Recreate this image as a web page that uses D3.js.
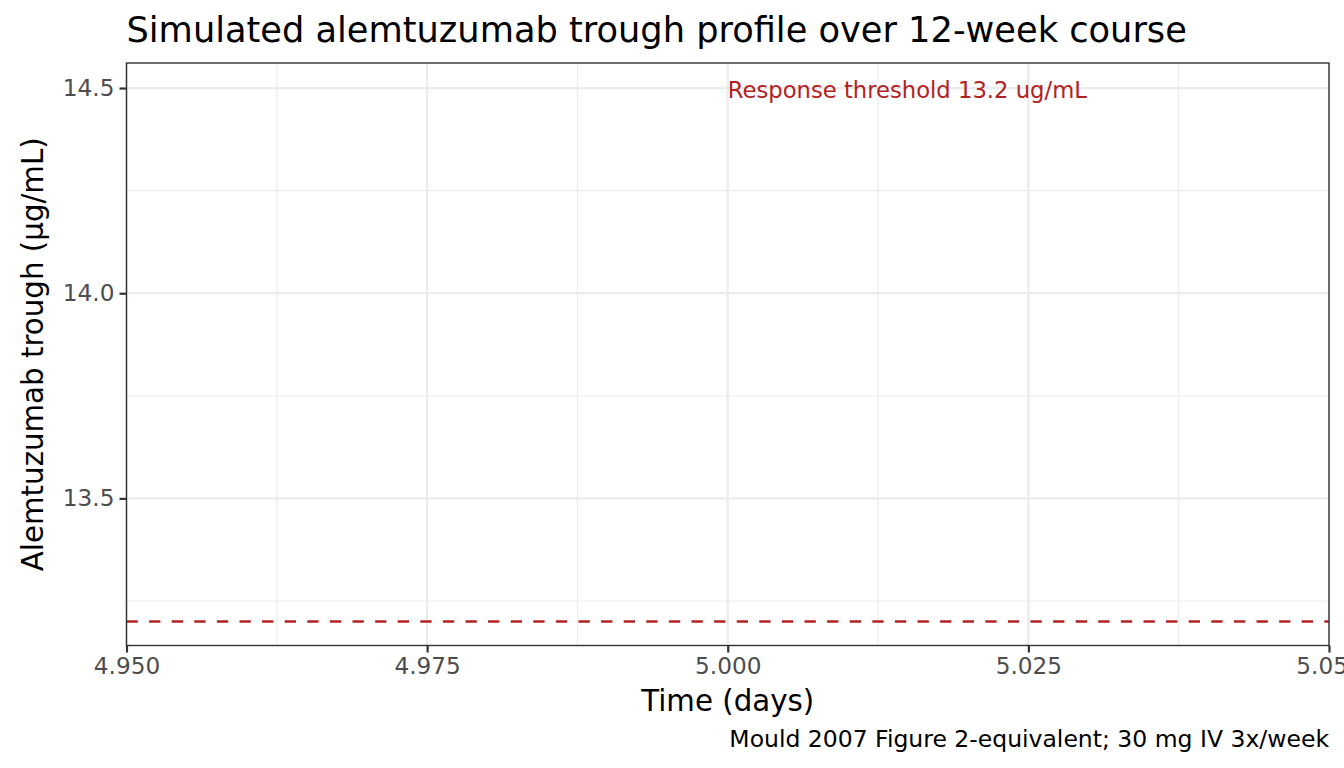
<!DOCTYPE html>
<html><head><meta charset="utf-8">
<script src="https://cdn.jsdelivr.net/npm/d3@7"></script>
<style>body{margin:0;background:#fff;} svg{display:block;font-family:"DejaVu Sans",sans-serif;}</style>
</head><body>
<script>
const xDomain = [4.95, 5.05];
const yDomain = [13.1415, 14.561];
const xTicks = [4.950, 4.975, 5.000, 5.025, 5.050];
const xTickLabels = ["4.950", "4.975", "5.000", "5.025", "5.050"];
const xMinor = [4.9625, 4.9875, 5.0125, 5.0375];
const yTicks = [13.5, 14.0, 14.5];
const yTickLabels = ["13.5", "14.0", "14.5"];
const yMinor = [13.25, 13.75, 14.25];
const threshold = [13.2];
const annotation = [{x: 5.0, y: 14.5, label: "Response threshold 13.2 ug/mL"}];

const W = 1344, H = 768;
const m = {left: 126.5, right: 1329, top: 63, bottom: 645.5};
const svg = d3.select("body").append("svg").attr("width", W).attr("height", H);
const x = d3.scaleLinear().domain(xDomain).range([m.left, m.right]);
const y = d3.scaleLinear().domain(yDomain).range([m.bottom, m.top]);

svg.append("rect").attr("x", m.left).attr("y", m.top).attr("width", m.right - m.left).attr("height", m.bottom - m.top).attr("fill", "#fff");

const defs = svg.append("defs");
defs.append("clipPath").attr("id", "clip").append("rect")
  .attr("x", m.left).attr("y", m.top).attr("width", m.right - m.left).attr("height", m.bottom - m.top);

const grid = svg.append("g");
grid.selectAll(".xm").data(xMinor).join("line").attr("x1", d => x(d)).attr("x2", d => x(d))
  .attr("y1", m.top).attr("y2", m.bottom).attr("stroke", "#EBEBEB").attr("stroke-width", 1.1);
grid.selectAll(".ym").data(yMinor).join("line").attr("y1", d => y(d)).attr("y2", d => y(d))
  .attr("x1", m.left).attr("x2", m.right).attr("stroke", "#EBEBEB").attr("stroke-width", 1.1);
grid.selectAll(".xM").data(xTicks).join("line").attr("x1", d => x(d)).attr("x2", d => x(d))
  .attr("y1", m.top).attr("y2", m.bottom).attr("stroke", "#EBEBEB").attr("stroke-width", 2.2);
grid.selectAll(".yM").data(yTicks).join("line").attr("y1", d => y(d)).attr("y2", d => y(d))
  .attr("x1", m.left).attr("x2", m.right).attr("stroke", "#EBEBEB").attr("stroke-width", 2.2);

svg.append("g").attr("clip-path", "url(#clip)").selectAll("line").data(threshold).join("line")
  .attr("x1", m.left).attr("x2", m.right).attr("y1", d => y(d)).attr("y2", d => y(d))
  .attr("stroke", "#B22222").attr("stroke-width", 2.6).attr("stroke-dasharray", "11.3,11.3");

svg.selectAll(".ann").data(annotation).join("text")
  .attr("x", d => x(d.x)).attr("y", d => y(d.y) + 9.5)
  .attr("fill", "#B22222").attr("font-size", 22.7).text(d => d.label);

svg.append("rect").attr("x", m.left).attr("y", m.top).attr("width", m.right - m.left).attr("height", m.bottom - m.top)
  .attr("fill", "none").attr("stroke", "#333333").attr("stroke-width", 1.4);

const xAxis = d3.axisBottom(x).tickValues(xTicks).tickFormat((d, i) => xTickLabels[i]).tickSize(7).tickPadding(5);
const gx = svg.append("g").attr("transform", `translate(0,${m.bottom})`).call(xAxis);
gx.select(".domain").remove();
gx.selectAll(".tick line").attr("stroke", "#333333").attr("stroke-width", 2.2);
gx.selectAll(".tick text").attr("fill", "#4D4D4D").attr("font-size", 23.2).attr("font-family", "DejaVu Sans");

const yAxis = d3.axisLeft(y).tickValues(yTicks).tickFormat((d, i) => yTickLabels[i]).tickSize(7).tickPadding(5);
const gy = svg.append("g").attr("transform", `translate(${m.left},0)`).call(yAxis);
gy.select(".domain").remove();
gy.selectAll(".tick line").attr("stroke", "#333333").attr("stroke-width", 2.2);
gy.selectAll(".tick text").attr("fill", "#4D4D4D").attr("font-size", 23.2).attr("font-family", "DejaVu Sans");

svg.append("text").attr("x", m.left).attr("y", 41.5).attr("font-size", 35.2).attr("fill", "#000")
  .text("Simulated alemtuzumab trough profile over 12-week course");
svg.append("text").attr("x", (m.left + m.right) / 2).attr("y", 710.5).attr("text-anchor", "middle")
  .attr("font-size", 29.3).attr("fill", "#000").text("Time (days)");
svg.append("text").attr("transform", `translate(43,${(m.top + m.bottom) / 2}) rotate(-90)`).attr("text-anchor", "middle")
  .attr("font-size", 29.3).attr("fill", "#000").text("Alemtuzumab trough (µg/mL)");
svg.append("text").attr("x", m.right).attr("y", 747).attr("text-anchor", "end")
  .attr("font-size", 23.5).attr("fill", "#000").text("Mould 2007 Figure 2-equivalent; 30 mg IV 3x/week");
</script>
</body></html>
